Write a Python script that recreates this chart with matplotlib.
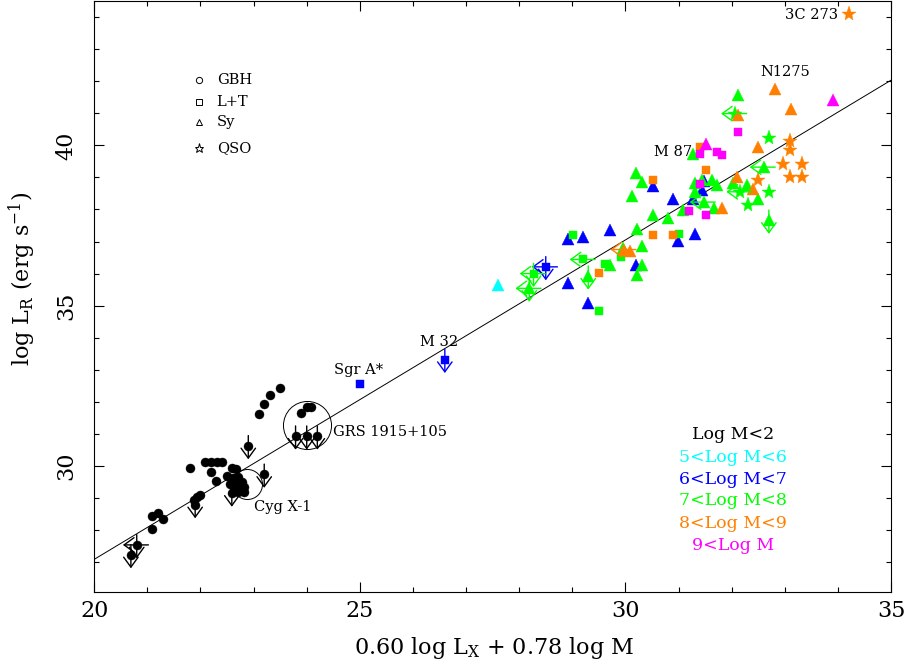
import numpy as np
import matplotlib.pyplot as plt

plt.rcParams['font.family'] = 'DejaVu Serif'
plt.rcParams['mathtext.fontset'] = 'dejavuserif'

# ---- data (x = 0.60 log Lx + 0.78 log M, y = log L_R) ----
# Log M < 2 : galactic black holes (filled circles)
gbh_x = [23.50, 23.31, 23.20, 23.10, 23.89, 24.00, 24.09, 21.80, 22.08, 22.19,
         22.31, 22.41, 22.20, 22.29, 22.49, 22.59, 22.66, 22.62, 22.71, 22.78,
         22.68, 22.81, 22.71, 22.81, 21.87, 21.93, 21.99, 21.09, 21.20, 21.29,
         21.09, 22.55, 22.64]
gbh_y = [32.42, 32.23, 31.93, 31.63, 31.64, 31.83, 31.83, 29.93, 30.13, 30.13,
         30.13, 30.13, 29.82, 29.53, 29.69, 29.93, 29.90, 29.62, 29.67, 29.51,
         29.41, 29.36, 29.20, 29.20, 28.94, 29.04, 29.10, 28.44, 28.55, 28.34,
         28.03, 29.45, 29.30]
gbh_ul_x = [23.79, 24.00, 24.20, 22.90, 23.20, 20.80, 20.69, 21.90, 22.59]
gbh_ul_y = [30.93, 30.93, 30.93, 30.63, 29.74, 27.54, 27.23, 28.79, 29.15]
gbh_ul_left = [0, 0, 0, 0, 0, 1, 0, 0, 0]

# 5 < Log M < 6
cyan_tri_x = [27.61]
cyan_tri_y = [35.66]

# 6 < Log M < 7
blue_sq_x = [25.00, 26.60, 28.50]
blue_sq_y = [32.55, 33.32, 36.21]
blue_tri_x = [28.91, 29.21, 28.91, 29.30, 29.71, 30.19, 30.51, 30.90, 30.99,
              31.31, 31.44, 31.28, 31.47]
blue_tri_y = [37.07, 37.14, 35.72, 35.07, 37.37, 36.26, 38.73, 38.34, 37.01,
              37.25, 38.60, 38.34, 38.90]

# 7 < Log M < 8
green_sq_x = [29.01, 29.21, 29.51, 29.62, 29.91, 31.01, 28.27]
green_sq_y = [37.20, 36.44, 34.83, 36.31, 36.52, 37.23, 36.00]
green_tri_x = [28.19, 29.30, 29.71, 30.21, 30.32, 30.21, 30.32, 30.20, 30.32,
               30.12, 30.51, 30.81, 32.11, 31.28, 31.63, 31.72, 31.44, 31.31,
               32.03, 32.28, 31.31, 32.50, 31.47, 31.66, 31.09, 32.70, 32.60,
               29.96]
green_tri_y = [35.54, 35.92, 36.26, 37.40, 36.26, 35.97, 36.86, 39.15, 38.86,
               38.41, 37.84, 37.74, 41.56, 39.74, 38.91, 38.75, 38.91, 38.81,
               38.81, 38.75, 38.55, 38.34, 38.23, 38.03, 37.98, 37.66, 39.32,
               36.80]
green_star_x = [32.70, 32.30, 32.70, 32.16, 32.06]
green_star_y = [40.24, 38.13, 38.55, 38.55, 40.99]

# 8 < Log M < 9
orange_sq_x = [29.51, 30.51, 30.51, 30.90, 31.40, 31.52]
orange_sq_y = [36.02, 38.91, 37.20, 37.20, 39.95, 39.22]
orange_tri_x = [29.98, 30.08, 32.82, 33.12, 32.50, 32.10, 32.41, 31.81, 32.11]
orange_tri_y = [36.75, 36.70, 41.77, 41.14, 39.95, 39.01, 38.65, 38.03, 40.95]
orange_star_x = [34.21, 33.10, 33.10, 32.97, 33.32, 33.10, 33.32, 32.50]
orange_star_y = [44.08, 40.12, 39.84, 39.43, 39.43, 39.01, 39.01, 38.93]

# 9 < Log M
mag_tri_x = [33.91, 31.52]
mag_tri_y = [41.42, 40.05]
mag_sq_x = [32.11, 31.40, 31.72, 31.82, 31.40, 31.20, 31.52]
mag_sq_y = [40.40, 39.72, 39.79, 39.71, 38.79, 37.94, 37.82]

# upper limits among the AGN
ul_x = [26.60, 28.50, 28.19, 28.27, 29.21, 29.30, 29.98, 32.06, 32.60, 32.16,
        31.47, 32.70]
ul_y = [33.32, 36.21, 35.54, 36.00, 36.44, 35.92, 36.75, 40.99, 39.32, 38.55,
        38.23, 37.66]
ul_col = ['blue', 'blue', 'green', 'green', 'green', 'green', 'orange',
          'green', 'green', 'green', 'green', 'green']
ul_down = [1, 1, 1, 1, 0, 1, 0, 0, 0, 0, 0, 1]
ul_left = [0, 1, 1, 1, 1, 0, 1, 1, 1, 1, 1, 0]

fit_slope = 0.996
fit_intercept = 7.17

names = ['3C 273', 'N1275', 'M 87', 'M 32', 'Sgr A*', 'GRS 1915+105', 'Cyg X-1']
name_x = [34.00, 33.00, 30.90, 26.49, 24.97, 24.49, 23.00]
name_y = [44.05, 42.28, 39.78, 33.87, 33.00, 31.07, 28.73]
name_ha = ['right', 'center', 'center', 'center', 'center', 'left', 'left']

mass_labels = ['Log M<2', '5<Log M<6', '6<Log M<7', '7<Log M<8', '8<Log M<9', '9<Log M']

COL = {'black': '#000000', 'cyan': '#00FFFF', 'blue': '#0000FF',
       'green': '#00FF00', 'orange': '#FF8000', 'magenta': '#FF00FF'}

fig = plt.figure(figsize=(9.07, 6.69), dpi=100)
ax = fig.add_axes([0.1039, 0.1155, 0.8785, 0.8830])

# best fit relation
xs = np.array([20.0, 35.0])
ax.plot(xs, fit_slope * xs + fit_intercept, color='k', lw=0.7, zorder=1)


def pts(x, y, marker, c, ms):
    ax.plot(x, y, ls='none', marker=marker, color=COL[c], mec=COL[c], mew=0.3,
            ms=ms, zorder=3)


def arrow(x0, y0, x1, y1, c):
    ax.annotate('', xy=(x1, y1), xytext=(x0, y0),
                arrowprops=dict(arrowstyle='->,head_length=0.55,head_width=0.4',
                                color=COL[c], lw=1.0, shrinkA=0, shrinkB=0,
                                mutation_scale=13), zorder=4)


def upper(x, y, c, down, left):
    if down:
        arrow(x, y + 0.32, x, y - 0.42, c)
    if left:
        arrow(x + 0.22, y, x - 0.26, y, c)


pts(gbh_x, gbh_y, 'o', 'black', 6.5)
pts(gbh_ul_x, gbh_ul_y, 'o', 'black', 6.5)
for x, y, lf in zip(gbh_ul_x, gbh_ul_y, gbh_ul_left):
    upper(x, y, 'black', 1, lf)

TRI, SQ, STAR = 8.5, 6.0, 11
pts(cyan_tri_x, cyan_tri_y, '^', 'cyan', TRI)
pts(blue_sq_x, blue_sq_y, 's', 'blue', SQ)
pts(blue_tri_x, blue_tri_y, '^', 'blue', TRI)
pts(green_sq_x, green_sq_y, 's', 'green', SQ)
pts(green_tri_x, green_tri_y, '^', 'green', TRI)
pts(green_star_x, green_star_y, '*', 'green', STAR)
pts(orange_sq_x, orange_sq_y, 's', 'orange', SQ)
pts(orange_tri_x, orange_tri_y, '^', 'orange', TRI)
pts(orange_star_x, orange_star_y, '*', 'orange', STAR)
pts(mag_tri_x, mag_tri_y, '^', 'magenta', TRI)
pts(mag_sq_x, mag_sq_y, 's', 'magenta', SQ)
for x, y, c, d, lf in zip(ul_x, ul_y, ul_col, ul_down, ul_left):
    upper(x, y, c, d, lf)

# circles round GRS 1915+105 and Cyg X-1
ax.plot([24.00], [31.28], marker='o', ms=34.6, mfc='none', mec='k', mew=0.7, zorder=2)
ax.plot([22.87], [29.44], marker='o', ms=21.6, mfc='none', mec='k', mew=0.7, zorder=2)

for t, x, y, ha in zip(names, name_x, name_y, name_ha):
    ax.text(x, y, t, ha=ha, va='center', fontsize=10.5, zorder=5)

# symbol key
key_marker = ['o', 's', '^', '*']
key_text = ['GBH', 'L+T', 'Sy', 'QSO']
key_y = [0.8662, 0.8295, 0.7946, 0.7506]
key_ms = [4.5, 4.2, 5, 6.5]
for m, t, yk, ms in zip(key_marker, key_text, key_y, key_ms):
    ax.plot([0.1316], [yk], marker=m, ms=ms, mfc='none', mec='k', mew=0.7,
            transform=ax.transAxes, clip_on=False)
    ax.text(0.1537, yk, t, transform=ax.transAxes, ha='left', va='center',
            fontsize=10.5)

# mass key
mass_cols = ['black', 'cyan', 'blue', 'green', 'orange', 'magenta']
mass_y = [0.2670, 0.2275, 0.1908, 0.1541, 0.1158, 0.0791]
for t, c, ym in zip(mass_labels, mass_cols, mass_y):
    ax.text(0.8017, ym, t, transform=ax.transAxes, ha='center', va='center',
            fontsize=12.5, color=COL[c])

ax.set_xlim(20, 35)
ax.set_ylim(26.08, 44.50)
ax.set_xticks([20, 25, 30, 35])
ax.set_xticks(np.arange(20, 36, 1), minor=True)
ax.set_yticks([30, 35, 40])
ax.set_yticks(np.arange(27, 45, 1), minor=True)
ax.tick_params(which='both', direction='in', top=True, right=True, width=0.8)
ax.tick_params(which='major', length=7.5, labelsize=16)
ax.tick_params(which='minor', length=3.5)
ax.tick_params(axis='x', pad=6)
ax.tick_params(axis='y', pad=12)
for lab in ax.get_yticklabels():
    lab.set_rotation(90)
    lab.set_va('center')
for s in ax.spines.values():
    s.set_linewidth(0.8)

ax.set_xlabel(r'0.60 log L$_\mathrm{X}$ + 0.78 log M', fontsize=16, va='center')
ax.xaxis.set_label_coords(0.502, -0.095)
ax.set_ylabel(r'log L$_\mathrm{R}$ (erg s$^{-1}$)', fontsize=16, va='center')
ax.yaxis.set_label_coords(-0.0906, 0.53)

fig.savefig('out.png', dpi=100)
